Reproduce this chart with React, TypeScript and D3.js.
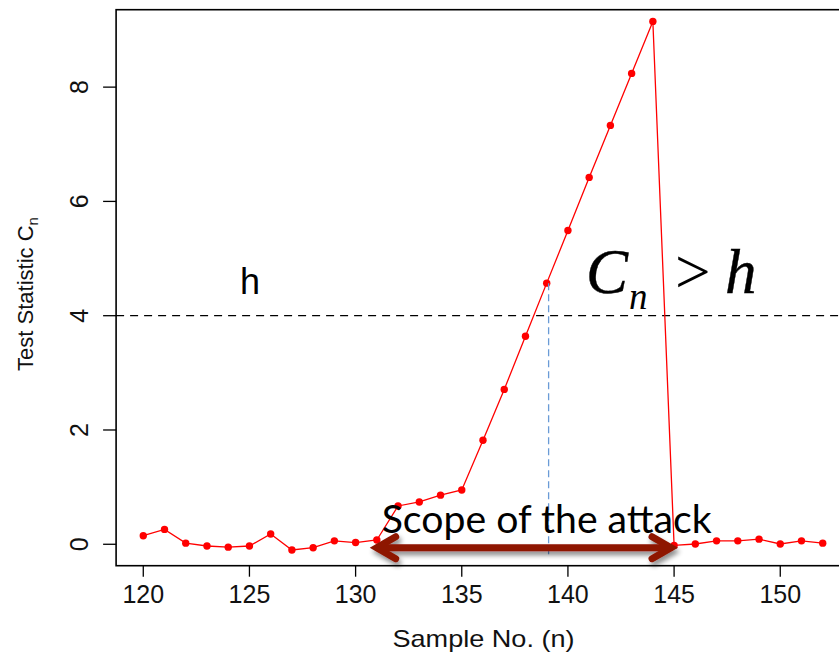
import { useMemo } from 'react';
import * as d3 from 'd3';

// sample numbers and the CUSUM-type test statistic
const samples = [120, 121, 122, 123, 124, 125, 126, 127, 128, 129, 130, 131, 132, 133, 134, 135, 136,
  137, 138, 139, 140, 141, 142, 143, 144, 145, 146, 147, 148, 149, 150, 151, 152];
const statistic = [0.15, 0.26, 0.02, -0.03, -0.05, -0.03, 0.18, -0.1, -0.06, 0.06, 0.03, 0.075, 0.67,
  0.74, 0.86, 0.95, 1.82, 2.71, 3.64, 4.57, 5.49, 6.42, 7.33, 8.24, 9.15, -0.02, 0.005, 0.06, 0.06,
  0.09, 0.005, 0.06, 0.02];

const xTicks = [120, 125, 130, 135, 140, 145, 150];
const yTicks = [0, 2, 4, 6, 8];
const threshold = 4;

// annotation anchors, in data units
const attackStart = 130.9;
const attackEnd = 144.95;
const arrowLevel = -0.06;
const crossing = 139.09;

const W = 839;
const H = 654;

const App = () => {
  const x = useMemo(() => d3.scaleLinear().domain([118.72, 153.28]).range([116.1, 849.9]), []);
  const y = useMemo(() => d3.scaleLinear().domain([-0.375, 9.355]).range([565.7, 9.7]), []);

  const pts = samples.map((s, i) => ({ s, v: statistic[i] }));
  const line = d3.line<{ s: number; v: number }>().x(d => x(d.s)).y(d => y(d.v));

  const [x0, x1] = x.range();
  const [y0, y1] = y.range();

  const ax1 = x(attackStart);
  const ax2 = x(attackEnd);
  const ay = y(arrowLevel);
  const crossIdx = samples.indexOf(139);

  const cx = x(140.85);
  const cy = y(4.39);

  return (
    <svg width={W} height={H} style={{ position: 'absolute', left: 0, top: 0, background: '#fff' }}
      fontFamily="'Liberation Sans', Arial, sans-serif">
      <defs>
        <filter id="shadow" x="-10%" y="-100%" width="120%" height="400%">
          <feGaussianBlur in="SourceAlpha" stdDeviation="2.5" />
          <feOffset dx="2" dy="4" result="b" />
          <feComponentTransfer><feFuncA type="linear" slope="0.45" /></feComponentTransfer>
          <feMerge><feMergeNode /><feMergeNode in="SourceGraphic" /></feMerge>
        </filter>
      </defs>

      {/* threshold h */}
      <line x1={x0} x2={W} y1={y(threshold)} y2={y(threshold)} stroke="#000" strokeWidth={1.3}
        strokeDasharray="8,6" />

      {/* series */}
      <path d={line(pts) ?? ''} fill="none" stroke="#ff0000" strokeWidth={1.3} />
      {pts.map(d => (
        <circle key={d.s} cx={x(d.s)} cy={y(d.v)} r={3.7} fill="#ff0000" />
      ))}

      {/* crossing marker */}
      <line x1={x(crossing)} x2={x(crossing)} y1={y(statistic[crossIdx])} y2={y(-0.22)}
        stroke="#6a9bd6" strokeWidth={1.3} strokeDasharray="7,4" />

      {/* box */}
      <rect x={x0} y={y1} width={x1 - x0} height={y0 - y1} fill="none" stroke="#000" strokeWidth={1.6} />

      {/* x axis */}
      {xTicks.map(t => (
        <g key={t}>
          <line x1={x(t)} x2={x(t)} y1={y0} y2={y0 + 11} stroke="#000" strokeWidth={1.3} />
          <text x={x(t)} y={603} textAnchor="middle" fontSize={25} fill="#111">{t}</text>
        </g>
      ))}
      <text x={483.5} y={646.5} textAnchor="middle" fontSize={24} textLength={182}
        lengthAdjust="spacingAndGlyphs" fill="#111">Sample No. (n)</text>

      {/* y axis */}
      {yTicks.map(t => (
        <g key={t}>
          <line x1={x0 - 13} x2={x0} y1={y(t)} y2={y(t)} stroke="#000" strokeWidth={1.3} />
          <text transform={`translate(88,${y(t)}) rotate(-90)`} textAnchor="middle" fontSize={25}
            fill="#111">{t}</text>
        </g>
      ))}
      <text transform={`translate(33,${294}) rotate(-90)`} textAnchor="middle" fontSize={22} fill="#111">
        Test Statistic C<tspan fontSize={15} dy={5}>n</tspan>
      </text>

      {/* annotations */}
      <text x={x(124.56)} y={y(4.38)} fontSize={36} fill="#000">h</text>

      <g fontFamily="'Liberation Serif', 'Times New Roman', serif" fill="#000">
        <text x={cx} y={cy} fontSize={63} fontStyle="italic" stroke="#000" strokeWidth={0.4}>C</text>
        <text x={cx + 43} y={cy + 16} fontSize={37} fontStyle="italic">n</text>
        <text x={cx + 89} y={cy} fontSize={63}>&gt;</text>
        <text x={cx + 139} y={cy} fontSize={63} fontStyle="italic" stroke="#000" strokeWidth={0.4}>h</text>
      </g>

      <text x={x(131.23)} y={y(0.19)} fontFamily="Lato, 'Open Sans', sans-serif" fontSize={38}
        textLength={330} lengthAdjust="spacingAndGlyphs" fill="#000">Scope of the attack</text>

      <g stroke="#8e1606" strokeWidth={7} fill="none" strokeLinecap="round" strokeLinejoin="miter"
        filter="url(#shadow)">
        <line x1={ax1 + 3} x2={ax2 - 3} y1={ay} y2={ay} />
        <polyline points={`${ax1 + 21},${ay - 11} ${ax1 + 2},${ay} ${ax1 + 21},${ay + 11}`} />
        <polyline points={`${ax2 - 21},${ay - 11} ${ax2 - 2},${ay} ${ax2 - 21},${ay + 11}`} />
      </g>
    </svg>
  );
};

export default App;
